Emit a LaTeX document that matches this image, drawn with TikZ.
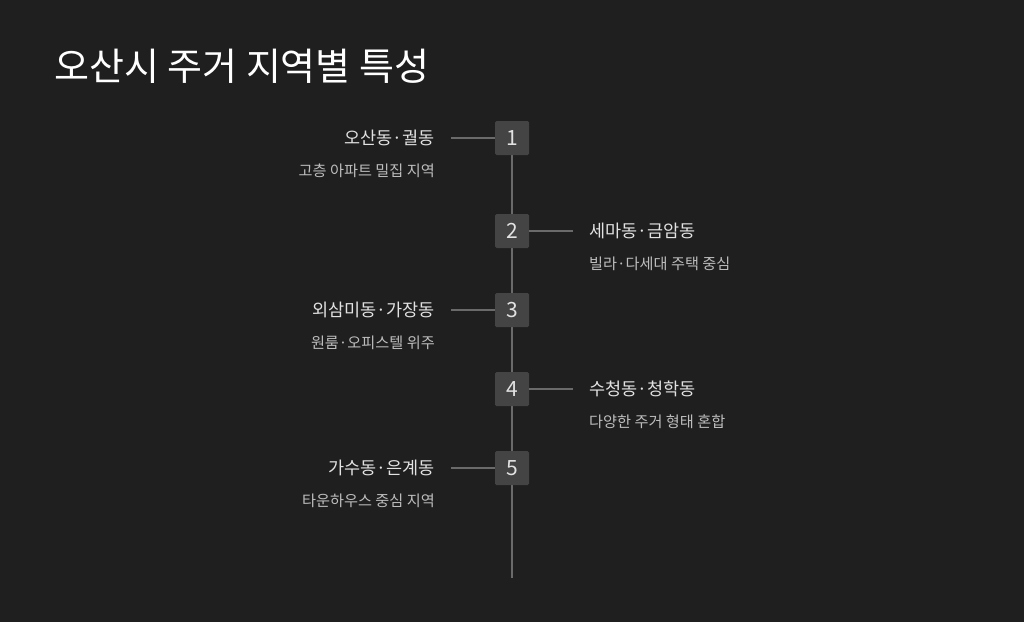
\documentclass[tikz,border=0pt]{standalone}
\usepackage{fontspec}
\setmainfont{Noto Sans CJK KR}
\begin{document}
\begin{tikzpicture}[x=1pt,y=-1pt,
  num/.style={draw=none,fill=boxc,rounded corners=1.5pt,minimum size=34pt,inner sep=0pt,text=labc,font=\fontsize{21}{21}\selectfont},
  lab/.style={text=labc,font=\fontsize{17.5}{17.5}\selectfont,inner sep=0pt},
  sub/.style={text=subc,font=\fontsize{15.2}{15.2}\selectfont,inner sep=0pt},
  ln/.style={draw=linec,line width=1.5pt}]
\definecolor{bg}{HTML}{1F1F1F}
\definecolor{boxc}{HTML}{444444}
\definecolor{linec}{HTML}{6A6A6A}
\definecolor{labc}{HTML}{E2E2E2}
\definecolor{subc}{HTML}{BDBDBD}
\fill[bg] (0,0) rectangle (1024,622);
\useasboundingbox (0,0) rectangle (1024,622);
\node[anchor=west,text=white,font=\fontsize{38}{38}\selectfont,inner sep=0pt] (title) at (54,66) {오산시 주거 지역별 특성};
\coordinate (top) at (512,122);
\coordinate (bot) at (512,578);
\draw[ln] (top) -- (bot);
\foreach \i/\y in {1/138,2/231,3/310,4/389,5/468}{
  \node[num] (n\i) at (512,\y) {\i};
}
\coordinate (l1) at (451,138); \coordinate (l3) at (451,310); \coordinate (l5) at (451,468);
\coordinate (r2) at (573,231); \coordinate (r4) at (573,389);
\draw[ln] (l1) -- (n1.west); \draw[ln] (l3) -- (n3.west); \draw[ln] (l5) -- (n5.west);
\draw[ln] (n2.east) -- (r2); \draw[ln] (n4.east) -- (r4);
\node[lab,anchor=east] (a1) at (435,138) {오산동·궐동};
\node[sub,anchor=east] (b1) at (435,171) {고층 아파트 밀집 지역};
\node[lab,anchor=west] (a2) at (589,231) {세마동·금암동};
\node[sub,anchor=west] (b2) at (589,264) {빌라·다세대 주택 중심};
\node[lab,anchor=east] (a3) at (435,310) {외삼미동·가장동};
\node[sub,anchor=east] (b3) at (435,343) {원룸·오피스텔 위주};
\node[lab,anchor=west] (a4) at (589,389) {수청동·청학동};
\node[sub,anchor=west] (b4) at (589,422) {다양한 주거 형태 혼합};
\node[lab,anchor=east] (a5) at (435,468) {가수동·은계동};
\node[sub,anchor=east] (b5) at (435,501) {타운하우스 중심 지역};
\end{tikzpicture}
\end{document}
